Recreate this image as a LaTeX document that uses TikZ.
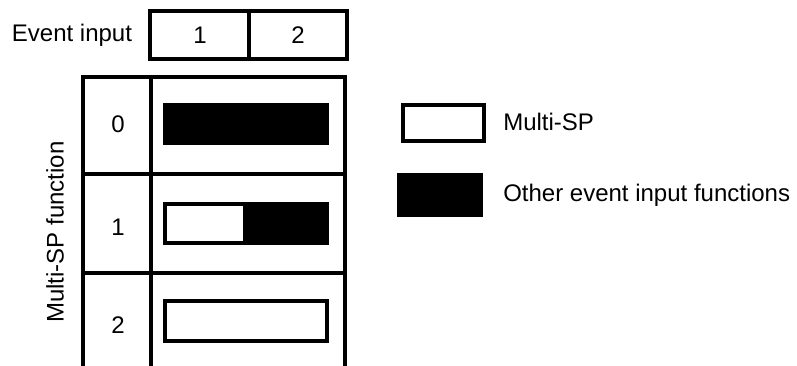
\documentclass[tikz,border=0pt]{standalone}
\usepackage{fontspec}
\setmainfont{Liberation Sans}
\begin{document}
\begin{tikzpicture}[x=0.75pt,y=-0.75pt,
  grid/.style={line width=2.6pt,line join=miter},
  bar/.style={line width=3pt,line join=miter},
  lbl/.style={inner sep=0pt,font=\fontsize{18}{21}\selectfont}]
\useasboundingbox (0,0) rectangle (797,365);
% header table
\draw[grid] (150,11) rectangle (347,59);
\draw[grid] (249,11) -- (249,59);
\node[lbl] (evin) at (72,35) {Event input};
\node[lbl] (in1) at (200,35) {1};
\node[lbl] (in2) at (298,35) {2};
% main table
\draw[grid] (83,366) -- (83,77) -- (345,77) -- (345,366);
\draw[grid] (151,77) -- (151,366);
\draw[grid] (83,174) -- (345,174);
\draw[grid] (83,273) -- (345,273);
\node[lbl] (r0) at (118,124) {0};
\node[lbl] (r1) at (118,227) {1};
\node[lbl] (r2) at (118,325) {2};
\node[lbl,rotate=90] (func) at (55,232) {Multi-SP function};
% bars
\draw[bar,fill=black] (165,105) rectangle (327,143);
\draw[bar,fill=black] (245,204) rectangle (327,243);
\draw[bar] (165,204) rectangle (327,243);
\draw[bar] (165,301) rectangle (327,341);
% legend
\draw[bar] (403,105) rectangle (484,141);
\draw[bar,fill=black] (399,175) rectangle (481,215);
\node[lbl,anchor=west] (lg1) at (503,122) {Multi-SP};
\node[lbl,anchor=west] (lg2) at (503,195) {Other event input functions};
\end{tikzpicture}
\end{document}
